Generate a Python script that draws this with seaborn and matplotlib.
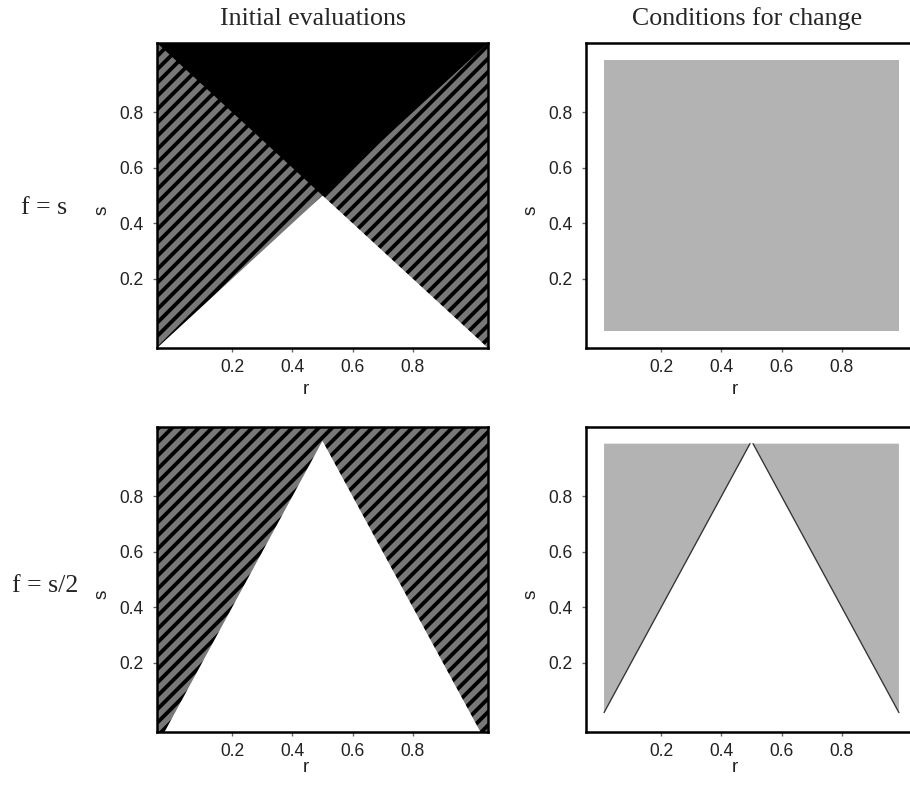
import numpy as np
import matplotlib.pyplot as plt
import seaborn as sns

# rango de r y s en todos los paneles
lim = [-0.05, 1.05]
ticks = [0.2, 0.4, 0.6, 0.8]
tick_labels = ['0.2', '0.4', '0.6', '0.8']

col_titles = ['Initial evaluations', 'Conditions for change']
row_labels = ['f = s', 'f = s/2']

# evaluaciones iniciales, f = s (blanco abajo, negro arriba, rayado el resto)
diag_r = [-0.05, 0.5, 1.05]
white_s = [-0.05, 0.5, -0.05]
black_s = [1.05, 0.5, 1.05]

# evaluaciones iniciales, f = s/2
peak_r = [-0.025, 0.5, 1.025]
peak_s = [-0.05, 1.0, -0.05]

# condiciones para el cambio: rejilla 0.01..0.99
grid_r = [0.01, 0.99, 0.99, 0.01]
grid_s = [0.01, 0.01, 0.99, 0.99]

# bordes de las zonas grises con f = s/2
edge_left_r = [0.01, 0.495]
edge_left_s = [0.02, 0.99]
edge_right_r = [0.505, 0.99]
edge_right_s = [0.99, 0.02]

sns.set_theme(style='ticks')
plt.rcParams['font.family'] = ['Liberation Sans', 'DejaVu Sans']
plt.rcParams['hatch.linewidth'] = 2.3
serif = ['Liberation Serif', 'DejaVu Serif']

gris_raya = '#787878'
gris_zona = '#b3b3b3'

fig = plt.figure(figsize=(910 / 120, 787 / 120), dpi=120)
lefts = [157 / 910, 586 / 910]
bottoms = [1 - 348 / 787, 1 - 732 / 787]
w, h = 331 / 910, 305 / 787

axes = [[fig.add_axes([lefts[j], bottoms[i], w, h]) for j in range(2)] for i in range(2)]

box_r = [lim[0], lim[1], lim[1], lim[0]]
box_s = [lim[0], lim[0], lim[1], lim[1]]

# panel arriba izquierda
ax = axes[0][0]
ax.fill(box_r, box_s, facecolor=gris_raya, edgecolor='black', hatch='///', lw=0)
ax.fill(diag_r, white_s, facecolor='white', lw=0)
ax.fill(diag_r, black_s, facecolor='black', lw=0)

# panel abajo izquierda
ax = axes[1][0]
ax.fill(box_r, box_s, facecolor=gris_raya, edgecolor='black', hatch='///', lw=0)
ax.fill(peak_r, peak_s, facecolor='white', lw=0)

# panel arriba derecha
ax = axes[0][1]
ax.fill(grid_r, grid_s, facecolor=gris_zona, lw=0)

# panel abajo derecha
ax = axes[1][1]
ax.fill(edge_left_r + [edge_left_r[0]], edge_left_s + [edge_left_s[1]], facecolor=gris_zona, lw=0)
ax.fill(edge_right_r + [edge_right_r[1]], edge_right_s + [edge_right_s[0]], facecolor=gris_zona, lw=0)
sns.lineplot(x=edge_left_r, y=edge_left_s, ax=ax, color='#333333', lw=0.8, sort=False, estimator=None)
sns.lineplot(x=edge_right_r, y=edge_right_s, ax=ax, color='#333333', lw=0.8, sort=False, estimator=None)

xlab_y = [-0.135, -0.118]
for i in range(2):
    for j in range(2):
        ax = axes[i][j]
        ax.set_xlim(lim)
        ax.set_ylim(lim)
        ax.set_xticks(ticks, tick_labels)
        ax.set_yticks(ticks, tick_labels)
        ax.tick_params(axis='both', direction='out', length=2.4, width=0.8,
                       color='#666666', labelsize=10.5, labelcolor='#222222')
        ax.tick_params(axis='x', pad=4.5)
        ax.tick_params(axis='y', pad=5.5)
        for sp in ax.spines.values():
            sp.set_visible(True)
            sp.set_color('black')
            sp.set_linewidth(1.5)
        ax.set_xlabel('r', fontsize=11.5, color='#222222')
        ax.set_ylabel('s', fontsize=11.5, color='#222222')
        ax.xaxis.label.set_va('center')
        ax.yaxis.label.set_va('center')
        ax.xaxis.set_label_coords(0.45, xlab_y[i])
        ax.yaxis.set_label_coords(-0.166, 0.452)

fig.text(313 / 910, 1 - 19 / 787, col_titles[0], ha='center', va='center', family=serif, fontsize=15.5)
fig.text(747 / 910, 1 - 19 / 787, col_titles[1], ha='center', va='center', family=serif, fontsize=15.5)
fig.text(44 / 910, 1 - 208 / 787, row_labels[0], ha='center', va='center', family=serif, fontsize=15.5)
fig.text(45 / 910, 1 - 586 / 787, row_labels[1], ha='center', va='center', family=serif, fontsize=15.5)

fig.savefig('out.png', dpi=120, facecolor='white')
